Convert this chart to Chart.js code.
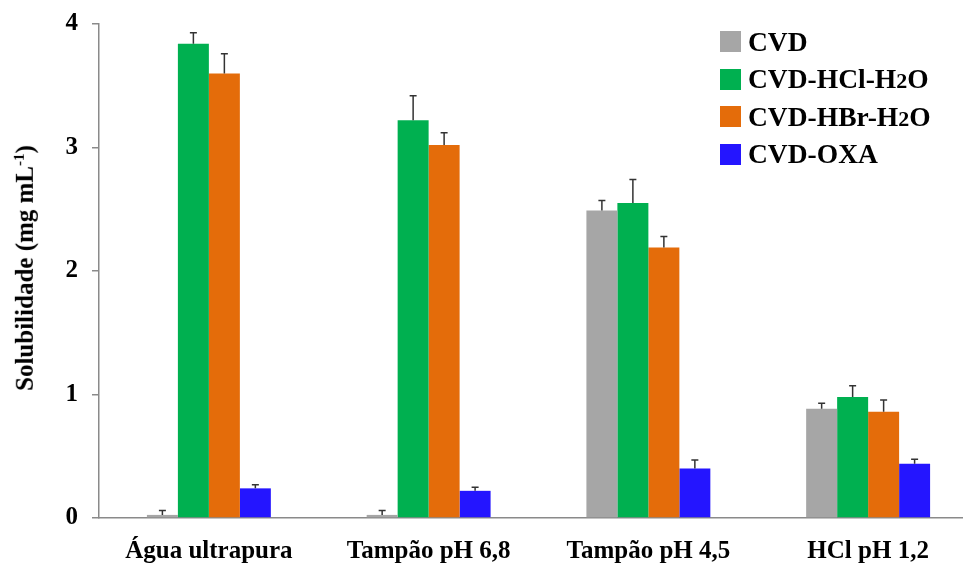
<!DOCTYPE html>
<html>
<head>
<meta charset="utf-8">
<script src="https://cdn.jsdelivr.net/npm/chart.js@4/dist/chart.umd.min.js"></script>
<style>
  html, body { margin: 0; padding: 0; background: #fff; overflow: hidden; }
  #wrap { position: relative; width: 963px; height: 563px; overflow: hidden; }
  #chart { position: absolute; left: 0; top: 0; }
  .serif { font-family: "Liberation Serif", "Times New Roman", serif; font-weight: bold; color: #000; }
  #ytitle { position: absolute; left: 25px; top: 268px; transform: translate(-50%, -50%) rotate(-90deg); white-space: nowrap; font-size: 25px; }
  #ytitle sup { font-size: 0.6em; }
  #legend { position: absolute; left: 720px; top: 23px; font-size: 27.5px; }
  #legend .row { display: flex; align-items: center; height: 37.5px; }
  #legend .box { width: 21px; height: 21px; margin-right: 7px; }
  #legend .small { font-size: 0.8em; }
</style>
</head>
<body>
<div id="wrap">
  <canvas id="chart" width="978" height="563"></canvas>
  <div id="ytitle" class="serif">Solubilidade (mg mL<sup>-1</sup>)</div>
  <div id="legend" class="serif"></div>
</div>
<script>
// Solubility by medium, mean + SD
const categories = ["Água ultrapura", "Tampão pH 6,8", "Tampão pH 4,5", "HCl pH 1,2"];

const seriesNames = ["CVD", "CVD-HCl-H2O", "CVD-HBr-H2O", "CVD-OXA"];
const seriesColors = ["#a6a6a6", "#00b050", "#e46c0a", "#2415ff"];

const cvd = [0.025, 0.025, 2.49, 0.885];
const cvdErr = [0.035, 0.035, 0.08, 0.045];
const cvdHcl = [3.84, 3.22, 2.55, 0.98];
const cvdHclErr = [0.09, 0.2, 0.19, 0.09];
const cvdHbr = [3.6, 3.02, 2.19, 0.86];
const cvdHbrErr = [0.16, 0.1, 0.09, 0.095];
const cvdOxa = [0.24, 0.22, 0.4, 0.44];
const cvdOxaErr = [0.03, 0.03, 0.07, 0.035];

const yTicks = [0, 1, 2, 3, 4];

const values = [cvd, cvdHcl, cvdHbr, cvdOxa];
const errors = [cvdErr, cvdHclErr, cvdHbrErr, cvdOxaErr];

const FONT = "'Liberation Serif', 'Times New Roman', serif";
const AXIS = "#8a8a8a";

// upward-only error bars with a small cap
const errorBars = {
  id: "errorBars",
  afterDatasetsDraw(chart) {
    const ctx = chart.ctx;
    const y = chart.scales.y;
    ctx.save();
    ctx.strokeStyle = "#333";
    ctx.lineWidth = 1.5;
    chart.data.datasets.forEach((ds, i) => {
      const meta = chart.getDatasetMeta(i);
      meta.data.forEach((bar, j) => {
        const top = y.getPixelForValue(ds.data[j] + ds.errors[j]);
        ctx.beginPath();
        ctx.moveTo(bar.x, bar.y);
        ctx.lineTo(bar.x, top);
        ctx.moveTo(bar.x - 3.5, top);
        ctx.lineTo(bar.x + 3.5, top);
        ctx.stroke();
      });
    });
    ctx.restore();
  }
};

const datasets = seriesNames.map((name, i) => ({
  label: name,
  data: values[i],
  errors: errors[i],
  backgroundColor: seriesColors[i],
  borderWidth: 0,
  barPercentage: 1,
  categoryPercentage: 0.564
}));

new Chart(document.getElementById("chart"), {
  type: "bar",
  data: { labels: categories, datasets: datasets },
  options: {
    responsive: false,
    animation: false,
    devicePixelRatio: 1,
    layout: { padding: { top: 24, left: 0, right: 0, bottom: 0 } },
    plugins: {
      legend: { display: false },
      tooltip: { enabled: false }
    },
    scales: {
      x: {
        grid: { display: false, drawTicks: false },
        border: { color: AXIS, width: 1.5 },
        ticks: {
          color: "#000",
          padding: 18.5,
          font: { family: FONT, size: 25, weight: "bold" }
        },
        afterFit(scale) {
          scale.height = 45;
          scale.paddingLeft = 0;
          scale.paddingRight = 0;
        }
      },
      y: {
        min: 0,
        max: 4,
        afterBuildTicks(scale) { scale.ticks = yTicks.map((v) => ({ value: v })); },
        grid: { drawOnChartArea: false, drawTicks: true, tickLength: 7, color: AXIS, lineWidth: 1.5 },
        border: { color: AXIS, width: 1.5 },
        ticks: {
          color: "#000",
          padding: 14,
          font: { family: FONT, size: 25, weight: "bold" }
        },
        afterFit(scale) {
          // keep the label overflow from pushing the plot down
          scale.width = 99;
          scale.paddingTop = 0;
          scale.paddingBottom = 0;
        }
      }
    }
  },
  plugins: [errorBars]
});

// legend, H2O with a smaller 2
const legend = document.getElementById("legend");
seriesNames.forEach((name, i) => {
  const row = document.createElement("div");
  row.className = "row";
  const label = name.replace("H2O", 'H<span class="small">2</span>O');
  row.innerHTML = `<span class="box" style="background:${seriesColors[i]}"></span><span>${label}</span>`;
  legend.appendChild(row);
});
</script>
</body>
</html>
